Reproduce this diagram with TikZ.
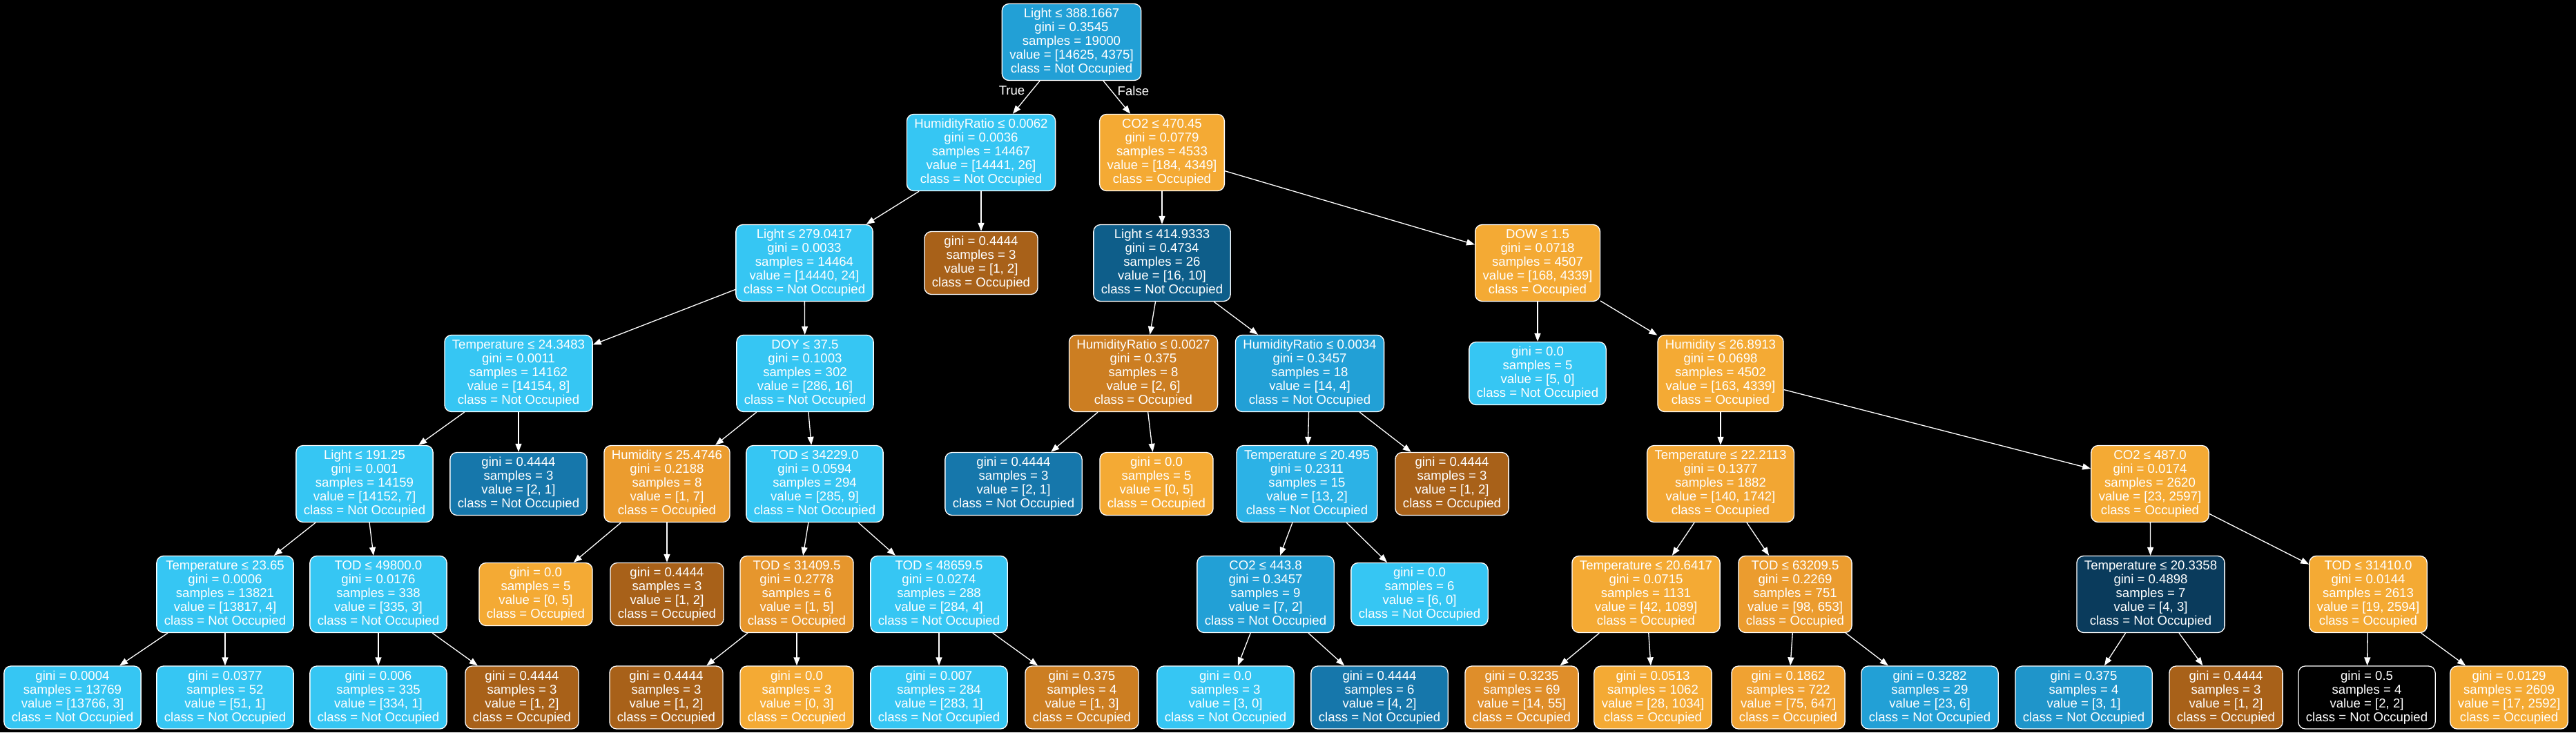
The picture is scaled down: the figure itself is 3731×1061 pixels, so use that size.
\documentclass[tikz,border=0pt]{standalone}
\usepackage{fontspec}
\setmainfont{Liberation Sans}
\usetikzlibrary{arrows.meta}
\definecolor{NotOccupiedA}{HTML}{36C6F3}
\definecolor{NotOccupiedB}{HTML}{2CB2E6}
\definecolor{NotOccupiedC}{HTML}{22A0D6}
\definecolor{NotOccupiedD}{HTML}{1F95CA}
\definecolor{NotOccupiedE}{HTML}{1677AB}
\definecolor{NotOccupiedF}{HTML}{0E5E8A}
\definecolor{NotOccupiedG}{HTML}{0A3B5C}
\definecolor{OccupiedA}{HTML}{F4AA34}
\definecolor{OccupiedB}{HTML}{F2A633}
\definecolor{OccupiedC}{HTML}{F0A232}
\definecolor{OccupiedD}{HTML}{EB9C2F}
\definecolor{OccupiedE}{HTML}{E6962D}
\definecolor{OccupiedF}{HTML}{DF8E2A}
\definecolor{OccupiedG}{HTML}{CC7E22}
\definecolor{OccupiedH}{HTML}{A86119}
\tikzset{
    treeText/.style={text=white, font=\fontsize{18.6}{20}\selectfont},
    treeNode/.style={treeText, draw=white, line width=1.3pt, rounded corners=10pt, align=center, inner xsep=11pt},
    splitNode/.style={treeNode, minimum height=111pt},
    leafNode/.style={treeNode, minimum height=91pt},
    treeEdge/.style={draw=white, line width=1.3pt, -{Triangle[length=12pt,width=9pt]}},
}

\begin{document}
\begin{tikzpicture}[x=1pt, y=-1pt]

    \fill[black] (0,0) rectangle (3731,1061);
    \useasboundingbox (0,0) rectangle (3731,1061);

    \def\rowA{61}
    \def\rowB{221}
    \def\rowC{381}
    \def\rowD{541}
    \def\rowE{701}
    \def\rowF{861}
    \def\rowG{1010.5}

    % Nivel 0

    \node[splitNode, fill=NotOccupiedC] (nRoot) at (1552, \rowA) {Light ≤ 388.1667\\gini = 0.3545\\samples = 19000\\value = [14625, 4375]\\class = Not Occupied};

    % Nivel 1

    \node[splitNode, fill=NotOccupiedA] (nHumRatioA) at (1421, \rowB) {HumidityRatio ≤ 0.0062\\gini = 0.0036\\samples = 14467\\value = [14441, 26]\\class = Not Occupied};
    \node[splitNode, fill=OccupiedA] (nCoTwoA) at (1683, \rowB) {CO2 ≤ 470.45\\gini = 0.0779\\samples = 4533\\value = [184, 4349]\\class = Occupied};

    % Nivel 2

    \node[splitNode, fill=NotOccupiedA] (nLightB) at (1165, \rowC) {Light ≤ 279.0417\\gini = 0.0033\\samples = 14464\\value = [14440, 24]\\class = Not Occupied};
    \node[leafNode, fill=OccupiedH] (nLeafB) at (1421, \rowC) {gini = 0.4444\\samples = 3\\value = [1, 2]\\class = Occupied};
    \node[splitNode, fill=NotOccupiedF] (nLightC) at (1683, \rowC) {Light ≤ 414.9333\\gini = 0.4734\\samples = 26\\value = [16, 10]\\class = Not Occupied};
    \node[splitNode, fill=OccupiedA] (nDow) at (2227, \rowC) {DOW ≤ 1.5\\gini = 0.0718\\samples = 4507\\value = [168, 4339]\\class = Occupied};

    % Nivel 3

    \node[splitNode, fill=NotOccupiedA] (nTempA) at (751, \rowD) {Temperature ≤ 24.3483\\gini = 0.0011\\samples = 14162\\value = [14154, 8]\\class = Not Occupied};
    \node[splitNode, fill=NotOccupiedA] (nDoy) at (1166, \rowD) {DOY ≤ 37.5\\gini = 0.1003\\samples = 302\\value = [286, 16]\\class = Not Occupied};
    \node[splitNode, fill=OccupiedG] (nHumRatioB) at (1656, \rowD) {HumidityRatio ≤ 0.0027\\gini = 0.375\\samples = 8\\value = [2, 6]\\class = Occupied};
    \node[splitNode, fill=NotOccupiedC] (nHumRatioC) at (1897, \rowD) {HumidityRatio ≤ 0.0034\\gini = 0.3457\\samples = 18\\value = [14, 4]\\class = Not Occupied};
    \node[leafNode, fill=NotOccupiedA] (nLeafC) at (2227, \rowD) {gini = 0.0\\samples = 5\\value = [5, 0]\\class = Not Occupied};
    \node[splitNode, fill=OccupiedA] (nHumB) at (2492, \rowD) {Humidity ≤ 26.8913\\gini = 0.0698\\samples = 4502\\value = [163, 4339]\\class = Occupied};

    % Nivel 4

    \node[splitNode, fill=NotOccupiedA] (nLightD) at (528, \rowE) {Light ≤ 191.25\\gini = 0.001\\samples = 14159\\value = [14152, 7]\\class = Not Occupied};
    \node[leafNode, fill=NotOccupiedE] (nLeafDOne) at (751, \rowE) {gini = 0.4444\\samples = 3\\value = [2, 1]\\class = Not Occupied};
    \node[splitNode, fill=OccupiedD] (nHumA) at (966, \rowE) {Humidity ≤ 25.4746\\gini = 0.2188\\samples = 8\\value = [1, 7]\\class = Occupied};
    \node[splitNode, fill=NotOccupiedA] (nTodA) at (1180, \rowE) {TOD ≤ 34229.0\\gini = 0.0594\\samples = 294\\value = [285, 9]\\class = Not Occupied};
    \node[leafNode, fill=NotOccupiedE] (nLeafDTwo) at (1468, \rowE) {gini = 0.4444\\samples = 3\\value = [2, 1]\\class = Not Occupied};
    \node[leafNode, fill=OccupiedA] (nLeafDThree) at (1675, \rowE) {gini = 0.0\\samples = 5\\value = [0, 5]\\class = Occupied};
    \node[splitNode, fill=NotOccupiedB] (nTempB) at (1893, \rowE) {Temperature ≤ 20.495\\gini = 0.2311\\samples = 15\\value = [13, 2]\\class = Not Occupied};
    \node[leafNode, fill=OccupiedH] (nLeafDFour) at (2103, \rowE) {gini = 0.4444\\samples = 3\\value = [1, 2]\\class = Occupied};
    \node[splitNode, fill=OccupiedB] (nTempC) at (2492, \rowE) {Temperature ≤ 22.2113\\gini = 0.1377\\samples = 1882\\value = [140, 1742]\\class = Occupied};
    \node[splitNode, fill=OccupiedA] (nCoTwoB) at (3114, \rowE) {CO2 ≤ 487.0\\gini = 0.0174\\samples = 2620\\value = [23, 2597]\\class = Occupied};

    % Nivel 5

    \node[splitNode, fill=NotOccupiedA] (nTempD) at (326, \rowF) {Temperature ≤ 23.65\\gini = 0.0006\\samples = 13821\\value = [13817, 4]\\class = Not Occupied};
    \node[splitNode, fill=NotOccupiedA] (nTodB) at (548, \rowF) {TOD ≤ 49800.0\\gini = 0.0176\\samples = 338\\value = [335, 3]\\class = Not Occupied};
    \node[leafNode, fill=OccupiedA] (nLeafEOne) at (776, \rowF) {gini = 0.0\\samples = 5\\value = [0, 5]\\class = Occupied};
    \node[leafNode, fill=OccupiedH] (nLeafETwo) at (966, \rowF) {gini = 0.4444\\samples = 3\\value = [1, 2]\\class = Occupied};
    \node[splitNode, fill=OccupiedE] (nTodC) at (1154, \rowF) {TOD ≤ 31409.5\\gini = 0.2778\\samples = 6\\value = [1, 5]\\class = Occupied};
    \node[splitNode, fill=NotOccupiedA] (nTodD) at (1360, \rowF) {TOD ≤ 48659.5\\gini = 0.0274\\samples = 288\\value = [284, 4]\\class = Not Occupied};
    \node[splitNode, fill=NotOccupiedC] (nCoTwoC) at (1833, \rowF) {CO2 ≤ 443.8\\gini = 0.3457\\samples = 9\\value = [7, 2]\\class = Not Occupied};
    \node[leafNode, fill=NotOccupiedA] (nLeafEThree) at (2056, \rowF) {gini = 0.0\\samples = 6\\value = [6, 0]\\class = Not Occupied};
    \node[splitNode, fill=OccupiedA] (nTempE) at (2384, \rowF) {Temperature ≤ 20.6417\\gini = 0.0715\\samples = 1131\\value = [42, 1089]\\class = Occupied};
    \node[splitNode, fill=OccupiedD] (nTodE) at (2600, \rowF) {TOD ≤ 63209.5\\gini = 0.2269\\samples = 751\\value = [98, 653]\\class = Occupied};
    \node[splitNode, fill=NotOccupiedG] (nTempF) at (3115, \rowF) {Temperature ≤ 20.3358\\gini = 0.4898\\samples = 7\\value = [4, 3]\\class = Not Occupied};
    \node[splitNode, fill=OccupiedA] (nTodF) at (3430, \rowF) {TOD ≤ 31410.0\\gini = 0.0144\\samples = 2613\\value = [19, 2594]\\class = Occupied};

    % Nivel 6 (hojas)

    \node[leafNode, fill=NotOccupiedA] (nLeafFOne) at (105, \rowG) {gini = 0.0004\\samples = 13769\\value = [13766, 3]\\class = Not Occupied};
    \node[leafNode, fill=NotOccupiedA] (nLeafFTwo) at (326, \rowG) {gini = 0.0377\\samples = 52\\value = [51, 1]\\class = Not Occupied};
    \node[leafNode, fill=NotOccupiedA] (nLeafFThree) at (548, \rowG) {gini = 0.006\\samples = 335\\value = [334, 1]\\class = Not Occupied};
    \node[leafNode, fill=OccupiedH] (nLeafFFour) at (756, \rowG) {gini = 0.4444\\samples = 3\\value = [1, 2]\\class = Occupied};
    \node[leafNode, fill=OccupiedH] (nLeafFFive) at (965, \rowG) {gini = 0.4444\\samples = 3\\value = [1, 2]\\class = Occupied};
    \node[leafNode, fill=OccupiedA] (nLeafFSix) at (1154, \rowG) {gini = 0.0\\samples = 3\\value = [0, 3]\\class = Occupied};
    \node[leafNode, fill=NotOccupiedA] (nLeafFSeven) at (1360, \rowG) {gini = 0.007\\samples = 284\\value = [283, 1]\\class = Not Occupied};
    \node[leafNode, fill=OccupiedG] (nLeafFEight) at (1567, \rowG) {gini = 0.375\\samples = 4\\value = [1, 3]\\class = Occupied};
    \node[leafNode, fill=NotOccupiedA] (nLeafFNine) at (1775, \rowG) {gini = 0.0\\samples = 3\\value = [3, 0]\\class = Not Occupied};
    \node[leafNode, fill=NotOccupiedE] (nLeafFTen) at (1998, \rowG) {gini = 0.4444\\samples = 6\\value = [4, 2]\\class = Not Occupied};
    \node[leafNode, fill=OccupiedF] (nLeafFEleven) at (2204, \rowG) {gini = 0.3235\\samples = 69\\value = [14, 55]\\class = Occupied};
    \node[leafNode, fill=OccupiedA] (nLeafFTwelve) at (2394, \rowG) {gini = 0.0513\\samples = 1062\\value = [28, 1034]\\class = Occupied};
    \node[leafNode, fill=OccupiedC] (nLeafFThirteen) at (2590, \rowG) {gini = 0.1862\\samples = 722\\value = [75, 647]\\class = Occupied};
    \node[leafNode, fill=NotOccupiedC] (nLeafFFourteen) at (2795, \rowG) {gini = 0.3282\\samples = 29\\value = [23, 6]\\class = Not Occupied};
    \node[leafNode, fill=NotOccupiedD] (nLeafFFifteen) at (3018, \rowG) {gini = 0.375\\samples = 4\\value = [3, 1]\\class = Not Occupied};
    \node[leafNode, fill=OccupiedH] (nLeafFSixteen) at (3224, \rowG) {gini = 0.4444\\samples = 3\\value = [1, 2]\\class = Occupied};
    \node[leafNode, fill=black] (nLeafFSeventeen) at (3428, \rowG) {gini = 0.5\\samples = 4\\value = [2, 2]\\class = Not Occupied};
    \node[leafNode, fill=OccupiedA] (nLeafFEighteen) at (3634, \rowG) {gini = 0.0129\\samples = 2609\\value = [17, 2592]\\class = Occupied};

    % Aristas

    \draw[treeEdge] (nRoot) -- node[treeText, pos=0.3, left=6pt] {True} (nHumRatioA);
    \draw[treeEdge] (nRoot) -- node[treeText, pos=0.3, right=5pt] {False} (nCoTwoA);

    \draw[treeEdge] (nHumRatioA) -- (nLightB);
    \draw[treeEdge] (nHumRatioA) -- (nLeafB);
    \draw[treeEdge] (nCoTwoA) -- (nLightC);
    \draw[treeEdge] (nCoTwoA) -- (nDow);

    \draw[treeEdge] (nLightB) -- (nTempA);
    \draw[treeEdge] (nLightB) -- (nDoy);
    \draw[treeEdge] (nLightC) -- (nHumRatioB);
    \draw[treeEdge] (nLightC) -- (nHumRatioC);
    \draw[treeEdge] (nDow) -- (nLeafC);
    \draw[treeEdge] (nDow) -- (nHumB);

    \draw[treeEdge] (nTempA) -- (nLightD);
    \draw[treeEdge] (nTempA) -- (nLeafDOne);
    \draw[treeEdge] (nDoy) -- (nHumA);
    \draw[treeEdge] (nDoy) -- (nTodA);
    \draw[treeEdge] (nHumRatioB) -- (nLeafDTwo);
    \draw[treeEdge] (nHumRatioB) -- (nLeafDThree);
    \draw[treeEdge] (nHumRatioC) -- (nTempB);
    \draw[treeEdge] (nHumRatioC) -- (nLeafDFour);
    \draw[treeEdge] (nHumB) -- (nTempC);
    \draw[treeEdge] (nHumB) -- (nCoTwoB);

    \draw[treeEdge] (nLightD) -- (nTempD);
    \draw[treeEdge] (nLightD) -- (nTodB);
    \draw[treeEdge] (nHumA) -- (nLeafEOne);
    \draw[treeEdge] (nHumA) -- (nLeafETwo);
    \draw[treeEdge] (nTodA) -- (nTodC);
    \draw[treeEdge] (nTodA) -- (nTodD);
    \draw[treeEdge] (nTempB) -- (nCoTwoC);
    \draw[treeEdge] (nTempB) -- (nLeafEThree);
    \draw[treeEdge] (nTempC) -- (nTempE);
    \draw[treeEdge] (nTempC) -- (nTodE);
    \draw[treeEdge] (nCoTwoB) -- (nTempF);
    \draw[treeEdge] (nCoTwoB) -- (nTodF);

    \draw[treeEdge] (nTempD) -- (nLeafFOne);
    \draw[treeEdge] (nTempD) -- (nLeafFTwo);
    \draw[treeEdge] (nTodB) -- (nLeafFThree);
    \draw[treeEdge] (nTodB) -- (nLeafFFour);
    \draw[treeEdge] (nTodC) -- (nLeafFFive);
    \draw[treeEdge] (nTodC) -- (nLeafFSix);
    \draw[treeEdge] (nTodD) -- (nLeafFSeven);
    \draw[treeEdge] (nTodD) -- (nLeafFEight);
    \draw[treeEdge] (nCoTwoC) -- (nLeafFNine);
    \draw[treeEdge] (nCoTwoC) -- (nLeafFTen);
    \draw[treeEdge] (nTempE) -- (nLeafFEleven);
    \draw[treeEdge] (nTempE) -- (nLeafFTwelve);
    \draw[treeEdge] (nTodE) -- (nLeafFThirteen);
    \draw[treeEdge] (nTodE) -- (nLeafFFourteen);
    \draw[treeEdge] (nTempF) -- (nLeafFFifteen);
    \draw[treeEdge] (nTempF) -- (nLeafFSixteen);
    \draw[treeEdge] (nTodF) -- (nLeafFSeventeen);
    \draw[treeEdge] (nTodF) -- (nLeafFEighteen);

\end{tikzpicture}
\end{document}
